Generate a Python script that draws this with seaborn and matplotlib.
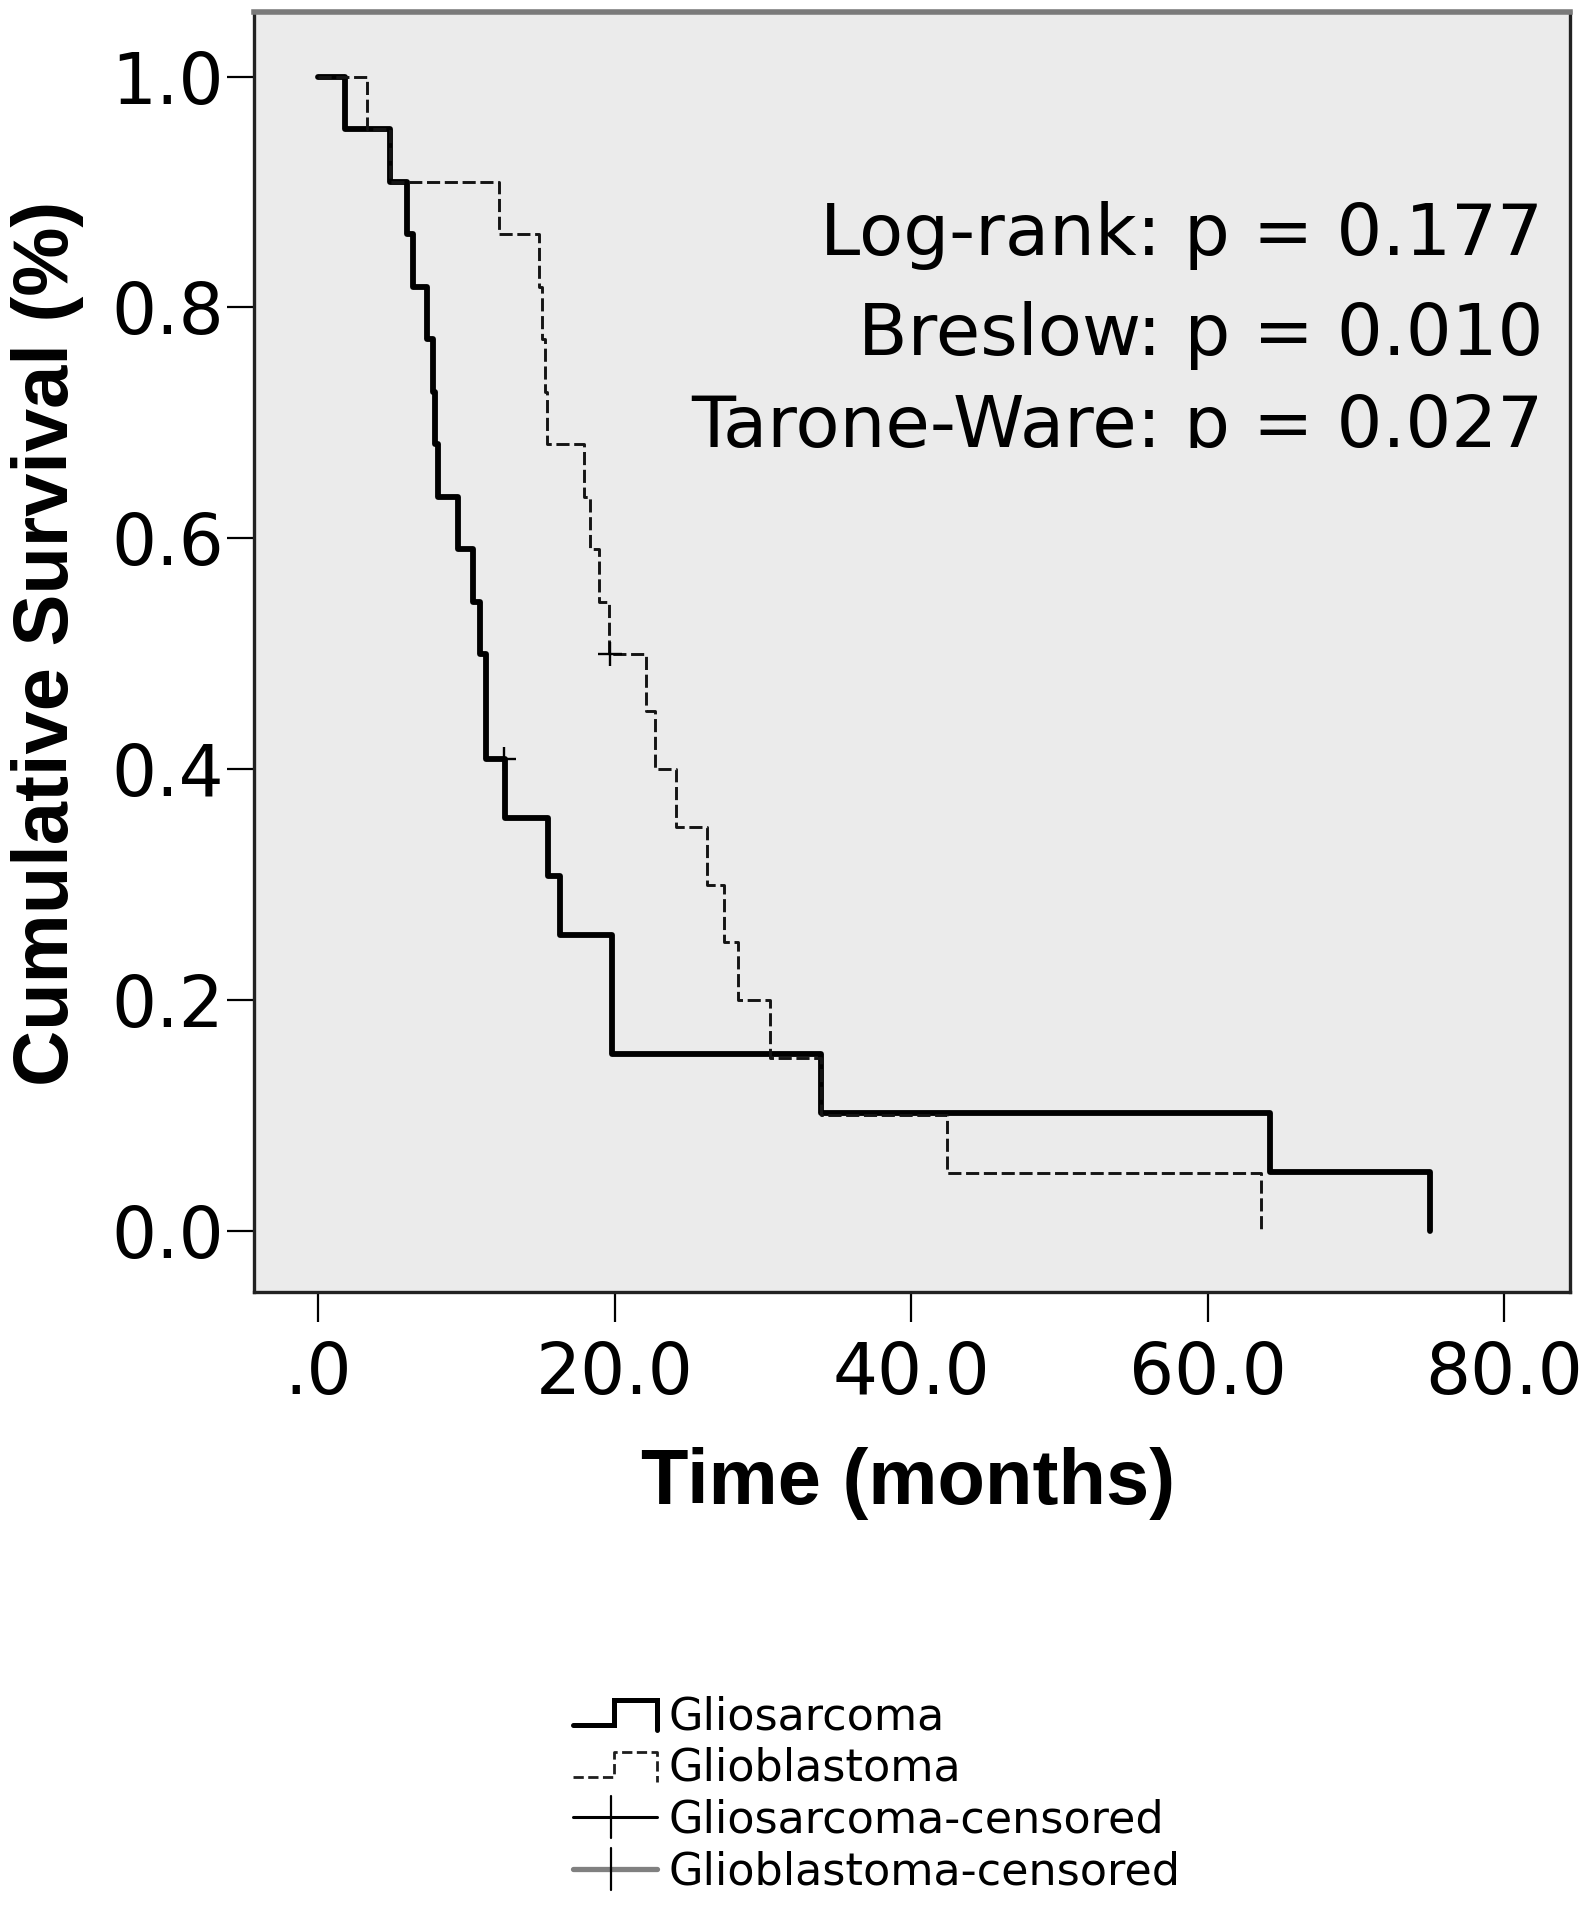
import matplotlib
matplotlib.use("Agg")
import matplotlib.pyplot as plt
import seaborn as sns
from matplotlib.lines import Line2D
from matplotlib.legend_handler import HandlerBase
from matplotlib.transforms import Bbox, TransformedBbox

# Kaplan-Meier steps (time in months, cumulative survival)
gs_time = [0.0, 1.8, 4.85, 6.0, 6.4, 7.3, 7.7, 7.9, 8.1, 9.4, 10.4, 10.9, 11.3,
           12.6, 15.5, 16.3, 19.8, 33.9, 64.2, 75.0]
gs_surv = [1.0, 0.955, 0.909, 0.864, 0.818, 0.773, 0.727, 0.682, 0.636, 0.591,
           0.545, 0.5, 0.409, 0.358, 0.307, 0.256, 0.153, 0.102, 0.051, 0.0]
gb_time = [0.0, 3.3, 4.85, 12.2, 14.9, 15.1, 15.3, 15.4, 17.9, 18.3, 18.9, 19.6,
           22.1, 22.7, 24.1, 26.2, 27.4, 28.3, 30.5, 33.9, 42.4, 63.6]
gb_surv = [1.0, 0.955, 0.909, 0.864, 0.818, 0.773, 0.727, 0.682, 0.636, 0.591,
           0.545, 0.5, 0.45, 0.40, 0.35, 0.30, 0.25, 0.20, 0.15, 0.10, 0.05, 0.0]
gs_cens_time = [12.5]
gs_cens_surv = [0.409]
gb_cens_time = [19.7]
gb_cens_surv = [0.5]

xticks = [0, 20, 40, 60, 80]
xtick_labels = [".0", "20.0", "40.0", "60.0", "80.0"]
yticks = [0.0, 0.2, 0.4, 0.6, 0.8, 1.0]
ytick_labels = ["0.0", "0.2", "0.4", "0.6", "0.8", "1.0"]
stats_lines = ["Log-rank: p = 0.177", "Breslow: p = 0.010", "Tarone-Ware: p = 0.027"]
legend_labels = ["Gliosarcoma", "Glioblastoma", "Gliosarcoma-censored", "Glioblastoma-censored"]

sns.set_theme(style="white")
plt.rcParams["font.family"] = ["DejaVu Sans"]
plt.rcParams["text.color"] = "black"
plt.rcParams["axes.labelcolor"] = "black"
plt.rcParams["xtick.color"] = "black"
plt.rcParams["ytick.color"] = "black"

W, H = 1586, 1920
fig = plt.figure(figsize=(W / 100, H / 100), dpi=100)
L, R, T, B = 253.5, 1570, 12, 1292
ax = fig.add_axes([L / W, 1 - B / H, (R - L) / W, (B - T) / H])
ax.set_facecolor("#ebebeb")

dash = (0, (4.5, 1.6))
sns.lineplot(x=gs_time, y=gs_surv, ax=ax, color="black", linewidth=4.2,
             drawstyle="steps-post", estimator=None, sort=False)
sns.lineplot(x=gb_time, y=gb_surv, ax=ax, color="#141414", linewidth=2.1,
             linestyle=dash, drawstyle="steps-post", estimator=None, sort=False)
sns.scatterplot(x=gs_cens_time, y=gs_cens_surv, ax=ax, marker="+", s=320,
                color="black", linewidth=1.7, zorder=5)
sns.scatterplot(x=gb_cens_time, y=gb_cens_surv, ax=ax, marker="+", s=320,
                color="black", linewidth=1.7, zorder=5)

ax.set_xlim(-4.38, 84.45)
ax.set_ylim(-0.053, 1.056)
ax.set_xticks(xticks)
ax.set_xticklabels(xtick_labels)
ax.set_yticks(yticks)
ax.set_yticklabels(ytick_labels)
ax.tick_params(axis="x", direction="out", length=21.5, width=1.6, pad=13,
               labelsize=51, bottom=True)
ax.tick_params(axis="y", direction="out", length=19.5, width=1.6, pad=2,
               labelsize=51, left=True)
for side in ["left", "right", "bottom"]:
    ax.spines[side].set_color("#222222")
    ax.spines[side].set_linewidth(2.4)
ax.spines["top"].set_color("#7a7a7a")
ax.spines["top"].set_linewidth(4)

ax.set_xlabel("Time (months)", fontsize=56, fontweight="bold",
              family=["Liberation Sans", "DejaVu Sans"])
ax.xaxis.set_label_coords((908 - L) / (R - L), (B - 1504) / (B - T))
ax.xaxis.label.set_va("baseline")
ax.set_ylabel("Cumulative Survival (%)", fontsize=56, fontweight="bold",
              family=["Liberation Sans", "DejaVu Sans"])
ax.yaxis.set_label_coords((48 - L) / (R - L), (B - 643) / (B - T))
ax.yaxis.label.set_va("center")

# test statistics, the last line is cut off at its baseline as in the original
clip = TransformedBbox(Bbox.from_extents(0, (B - 448) / (B - T), 1, 1), ax.transAxes)
for txt, yb in zip(stats_lines, [255, 355, 447]):
    t = ax.text((1543 - L) / (R - L), (B - yb) / (B - T), txt, transform=ax.transAxes,
                ha="right", va="baseline", fontsize=52)
    t.set_clip_box(clip)
    t.set_clip_on(True)


class StepHandler(HandlerBase):
    def create_artists(self, legend, orig, xd, yd, w, h, fontsize, trans):
        x0, y0 = -xd, -yd
        xs = [x0, x0 + 0.48 * w, x0 + 0.48 * w, x0 + w, x0 + w]
        ys = [y0 + 0.1 * h, y0 + 0.1 * h, y0 + 0.95 * h, y0 + 0.95 * h, y0 - 0.05 * h]
        ln = Line2D(xs, ys, color=orig.get_color(), linewidth=orig.get_linewidth(),
                    linestyle=orig.get_linestyle(), solid_joinstyle="miter")
        ln.set_transform(trans)
        return [ln]


class CensorHandler(HandlerBase):
    def create_artists(self, legend, orig, xd, yd, w, h, fontsize, trans):
        x0, y0 = -xd, -yd
        hl = Line2D([x0, x0 + w], [y0 + 0.5 * h] * 2, color=orig.get_color(),
                    linewidth=orig.get_linewidth())
        xc = x0 + 0.45 * w
        vl = Line2D([xc, xc], [y0 - 0.2 * h, y0 + 1.2 * h], color="black", linewidth=1.6)
        hl.set_transform(trans)
        vl.set_transform(trans)
        return [hl, vl]


h_gs = Line2D([], [], color="black", linewidth=3.6)
h_gb = Line2D([], [], color="#1e1e1e", linewidth=2.0, linestyle=(0, (2.5, 1.5)))
h_gsc = Line2D([], [], color="black", linewidth=2.2)
h_gbc = Line2D([], [], color="#808080", linewidth=3.8)
fig.legend([h_gs, h_gb, h_gsc, h_gbc], legend_labels,
           handler_map={h_gs: StepHandler(), h_gb: StepHandler(),
                        h_gsc: CensorHandler(), h_gbc: CensorHandler()},
           loc="upper left", bbox_to_anchor=(573 / W, 1 - 1695 / H),
           frameon=False, fontsize=32, handlelength=1.9, handleheight=0.65,
           handletextpad=0.25, labelspacing=0.2, borderpad=0, borderaxespad=0)

fig.savefig("out.png", dpi=100, facecolor="white")
